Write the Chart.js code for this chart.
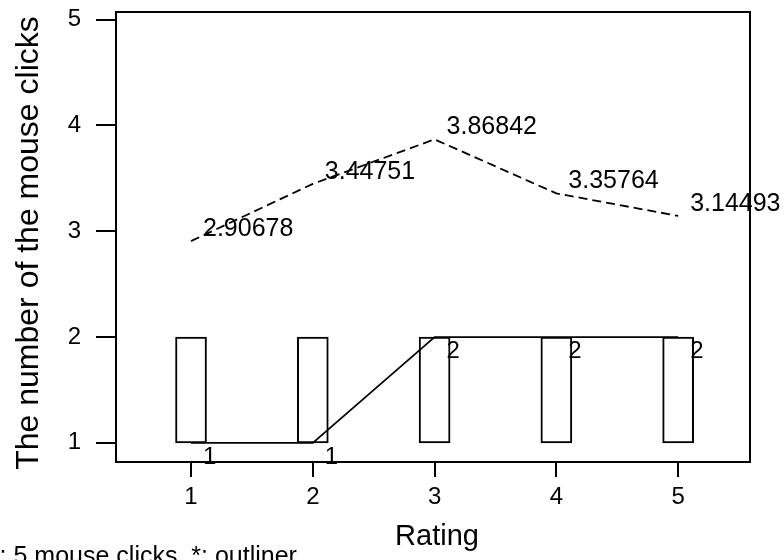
<!DOCTYPE html>
<html>
<head>
<meta charset="utf-8">
<script src="https://cdn.jsdelivr.net/npm/chart.js@4.4.1/dist/chart.umd.min.js"></script>
<style>
  html, body { margin: 0; padding: 0; background: #fff; }
  canvas { display: block; }
</style>
</head>
<body>
<canvas id="c" width="784" height="560"></canvas>
<script>
// Mouse clicks per rating: box (Q1..Q3), medians and means
const ratings = [1, 2, 3, 4, 5];
const q1Values = [1, 1, 1, 1, 1];
const q3Values = [2, 2, 2, 2, 2];
const medianValues = [1, 1, 2, 2, 2];
const meanValues = [2.90678, 3.44751, 3.86842, 3.35764, 3.14493];
const xTicks = [1, 2, 3, 4, 5];
const yTicks = [1, 2, 3, 4, 5];
const xTitle = 'Rating';
const yTitle = 'The number of the mouse clicks';
const footnote = '+: 5 mouse clicks, *: outliner';

const FONT = '"Liberation Sans", Arial, Helvetica, sans-serif';

const boxData = ratings.map((r, i) => ({ x: r, y: [q1Values[i], q3Values[i]] }));
const medianData = ratings.map((r, i) => ({ x: r, y: medianValues[i] }));
const meanData = ratings.map((r, i) => ({ x: r, y: meanValues[i] }));

// Closed frame around the plot area (top and right edges)
const framePlugin = {
  id: 'frame',
  afterDraw(chart) {
    const { ctx, chartArea: a } = chart;
    ctx.save();
    ctx.strokeStyle = '#000';
    ctx.lineWidth = 2;
    ctx.beginPath();
    ctx.moveTo(a.left - 1, a.top);
    ctx.lineTo(a.right, a.top);
    ctx.lineTo(a.right, a.bottom + 1);
    ctx.stroke();
    ctx.restore();
  }
};

// Value labels beside the median and mean points
const valueLabels = {
  id: 'valueLabels',
  afterDatasetsDraw(chart) {
    const { ctx } = chart;
    ctx.save();
    ctx.fillStyle = '#000';
    ctx.textAlign = 'left';
    ctx.textBaseline = 'alphabetic';
    const med = chart.getDatasetMeta(1);
    ctx.font = '24px ' + FONT;
    med.data.forEach((pt, i) => {
      ctx.fillText(String(medianValues[i]), pt.x + 12, pt.y + 21);
    });
    const mean = chart.getDatasetMeta(2);
    ctx.font = '25px ' + FONT;
    mean.data.forEach((pt, i) => {
      ctx.fillText(meanValues[i].toFixed(5), pt.x + 12, pt.y - 5);
    });
    ctx.restore();
  }
};

// Axis titles and the footnote
const titles = {
  id: 'titles',
  afterDraw(chart) {
    const { ctx } = chart;
    ctx.save();
    ctx.fillStyle = '#000';
    ctx.textAlign = 'center';
    ctx.textBaseline = 'alphabetic';
    ctx.font = '29px ' + FONT;
    ctx.fillText(xTitle, 437, 545);
    ctx.translate(38, 243);
    ctx.rotate(-Math.PI / 2);
    ctx.font = '32px ' + FONT;
    ctx.fillText(yTitle, 0, 0);
    ctx.restore();
    ctx.save();
    ctx.fillStyle = '#000';
    ctx.font = '25px ' + FONT;
    ctx.textAlign = 'left';
    ctx.textBaseline = 'alphabetic';
    ctx.fillText(footnote, -15, 564);
    ctx.restore();
  }
};

new Chart(document.getElementById('c'), {
  type: 'bar',
  data: {
    datasets: [
      {
        type: 'bar',
        data: boxData,
        backgroundColor: '#fff',
        borderColor: '#000',
        borderWidth: 2,
        borderSkipped: false,
        barThickness: 31,
        grouped: false,
        order: 3
      },
      {
        type: 'line',
        data: medianData,
        borderColor: '#000',
        borderWidth: 1.7,
        pointRadius: 0,
        tension: 0,
        fill: false,
        order: 2
      },
      {
        type: 'line',
        data: meanData,
        borderColor: '#000',
        borderWidth: 1.8,
        borderDash: [9, 5],
        pointRadius: 0,
        tension: 0,
        fill: false,
        order: 1
      }
    ]
  },
  options: {
    responsive: false,
    animation: false,
    layout: { padding: { top: 12, right: 34, left: 0, bottom: 0 } },
    plugins: {
      legend: { display: false },
      tooltip: { enabled: false },
      title: { display: false }
    },
    scales: {
      x: {
        type: 'linear',
        offset: false,
        min: 0.384,
        max: 5.59,
        afterBuildTicks: s => { s.ticks = xTicks.map(v => ({ value: v })); },
        afterFit: s => { s.height = 98; s.paddingLeft = 0; s.paddingRight = 0; },
        grid: { offset: false, drawOnChartArea: false, drawTicks: true, tickLength: 15, color: '#000', lineWidth: 2 },
        border: { display: true, color: '#000', width: 2 },
        ticks: { color: '#000', font: { family: FONT, size: 24 }, padding: 6, maxRotation: 0, autoSkip: false, callback: v => String(v) }
      },
      y: {
        type: 'linear',
        min: 0.819,
        max: 5.072,
        afterBuildTicks: s => { s.ticks = yTicks.map(v => ({ value: v })); },
        afterFit: s => { s.width = 116; s.paddingTop = 0; s.paddingBottom = 0; },
        grid: { drawOnChartArea: false, drawTicks: true, tickLength: 20, color: '#000', lineWidth: 2 },
        border: { display: true, color: '#000', width: 2 },
        ticks: { color: '#000', font: { family: FONT, size: 24 }, padding: 15, autoSkip: false, callback: v => String(v) }
      }
    }
  },
  plugins: [framePlugin, valueLabels, titles]
});
</script>
</body>
</html>
